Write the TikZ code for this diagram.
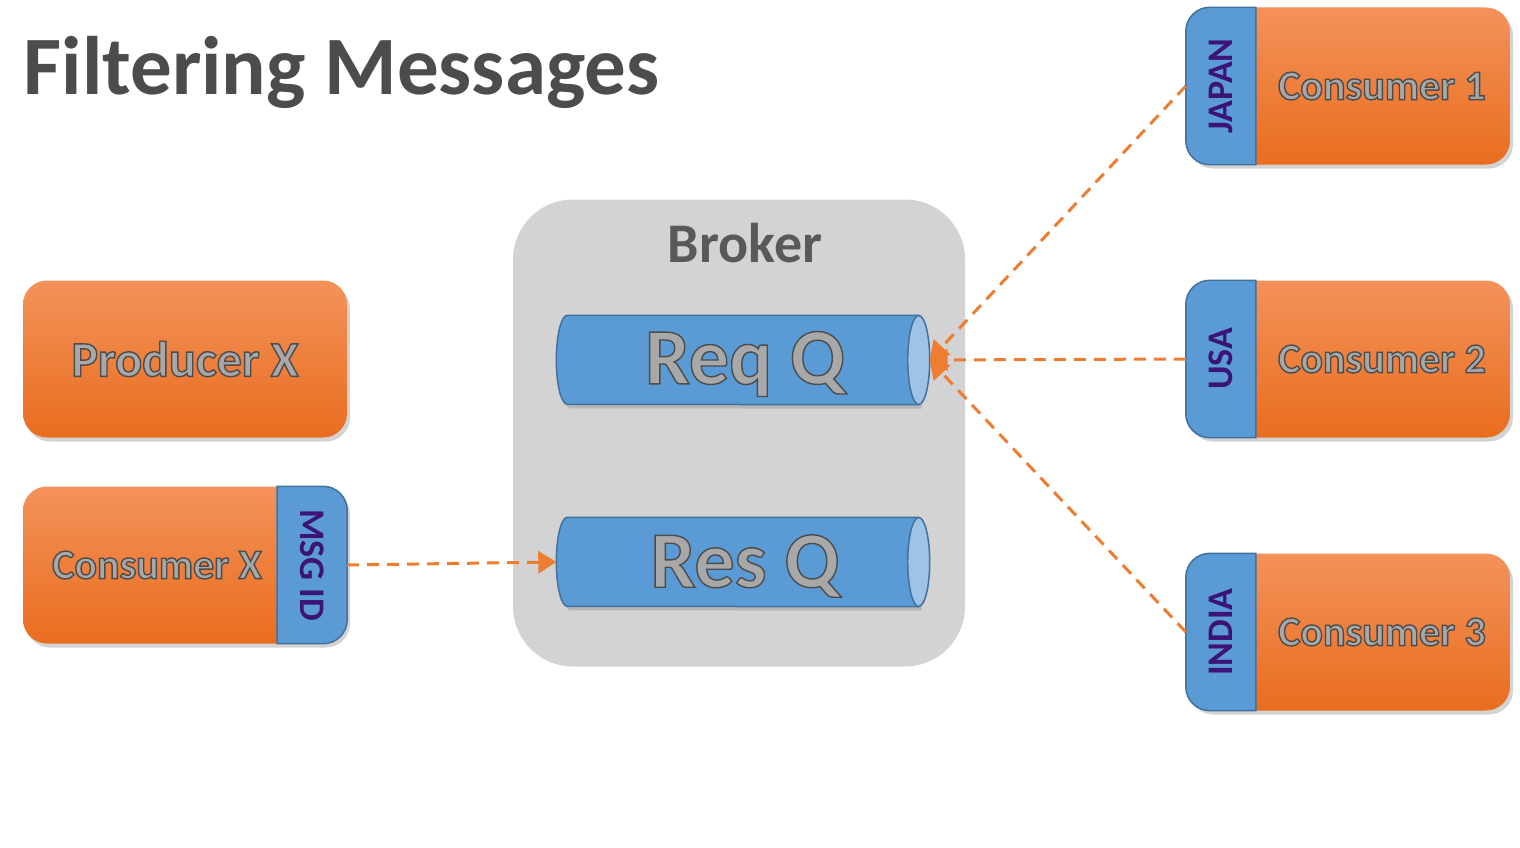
\documentclass[tikz,border=0pt]{standalone}
\usepackage{fontspec}
\setmainfont{Carlito}
\usetikzlibrary{arrows.meta,shadows}
\definecolor{boxtop}{HTML}{F3925A}
\definecolor{boxbot}{HTML}{E96D1F}
\definecolor{tabblue}{HTML}{5B9BD5}
\definecolor{tabline}{HTML}{41719C}
\definecolor{qend}{HTML}{9DC3E6}
\definecolor{flow}{HTML}{ED7D31}
\definecolor{brokergray}{HTML}{D3D3D3}
\definecolor{tabtext}{HTML}{3C1478}
\definecolor{labelgray}{HTML}{A8A8A8}
\newcommand\outlined[1]{\special{pdf:literal direct 2 Tr 1.4 w 0.3 0.3 0.3 RG}#1\special{pdf:literal direct 0 Tr}}
\tikzset{
  appbox/.style={rectangle, rounded corners=24pt, minimum width=324pt, minimum height=157pt,
    top color=boxtop, bottom color=boxbot, inner sep=0pt,
    drop shadow={shadow xshift=3pt, shadow yshift=-4pt, opacity=0.35}},
  boxtext/.style={text=labelgray, font=\bfseries\fontsize{42}{48}\selectfont},
  tabfill/.style={fill=tabblue, draw=tabline, line width=1.5pt},
  tabtext/.style={text=tabtext, font=\bfseries\fontsize{36}{40}\selectfont},
  queue/.style={rectangle, minimum width=373pt, minimum height=89pt, inner sep=0pt},
  qbody/.style={fill=tabblue, draw=tabline, line width=1.5pt,
    drop shadow={shadow xshift=3pt, shadow yshift=-4pt, opacity=0.35}},
  qend/.style={fill=qend, draw=tabline, line width=1.5pt},
  qtext/.style={text=labelgray, font=\bfseries\fontsize{80}{84}\selectfont},
  flowline/.style={flow, line width=3pt, dash pattern=on 12pt off 8pt, -{Triangle[length=18pt,width=22pt]}}
}
\begin{document}
\begin{tikzpicture}[x=1pt, y=-1pt]
\useasboundingbox (0,0) rectangle (1520,848);
\node[anchor=base west, text=black!70, font=\bfseries\fontsize{83}{90}\selectfont] (title) at (20,95) {Filtering Messages};

\node[fill=brokergray, rounded corners=60pt, minimum width=452pt, minimum height=467pt] (broker) at (739,433) {};
\node[text=black!65, font=\bfseries\fontsize{56}{60}\selectfont] (brokerlbl) at (745,243) {Broker};

\node[queue] (reqq) at (743,360) {};
\node[queue] (resq) at (743,562) {};
\foreach \q in {reqq, resq} {
  \draw[qbody] ([xshift=11pt]\q.north west) arc[start angle=90, end angle=270, x radius=11pt, y radius=44.5pt]
    -- ([xshift=-11pt]\q.south east) -- ([xshift=-11pt]\q.north east) -- cycle;
  \draw[qend] ([xshift=-11pt]\q.east) ellipse[x radius=11pt, y radius=44.5pt];
}
\node[qtext] (reqqlbl) at (745,364) {\outlined{Req Q}};
\node[qtext] (resqlbl) at (745,566) {\outlined{Res Q}};

\node[appbox] (prod) at (185,359) {};
\node[boxtext, font=\bfseries\fontsize{50}{56}\selectfont] (prodlbl) at (185,359) {\outlined{Producer X}};

\node[appbox] (cx) at (185,565) {};
\draw[tabfill] ([xshift=-70pt]cx.north east) [rounded corners=24pt] -- (cx.north east) -- (cx.south east) [sharp corners] -- ([xshift=-70pt]cx.south east) -- cycle;
\node[boxtext] (cxlbl) at (157,565) {\outlined{Consumer X}};
\node[tabtext, rotate=-90] (msgid) at (312,565) {MSG ID};

\node[appbox] (c1) at (1348,86) {};
\node[appbox] (c2) at (1348,359) {};
\node[appbox] (c3) at (1348,632) {};
\foreach \c/\t in {c1/JAPAN, c2/USA, c3/INDIA} {
  \draw[tabfill] ([xshift=70pt]\c.north west) [rounded corners=24pt] -- (\c.north west) -- (\c.south west) [sharp corners] -- ([xshift=70pt]\c.south west) -- cycle;
  \node[tabtext, rotate=90] (\c tab) at ([xshift=35pt]\c.west) {\t};
}
\node[boxtext] (c1lbl) at (1382,86) {\outlined{Consumer 1}};
\node[boxtext] (c2lbl) at (1382,359) {\outlined{Consumer 2}};
\node[boxtext] (c3lbl) at (1382,632) {\outlined{Consumer 3}};

\draw[flowline] (c1.west) -- (reqq.east);
\draw[flowline] (c2.west) -- (reqq.east);
\draw[flowline] (c3.west) -- (reqq.east);
\draw[flowline] (cx.east) -- (resq.west);
\end{tikzpicture}
\end{document}
